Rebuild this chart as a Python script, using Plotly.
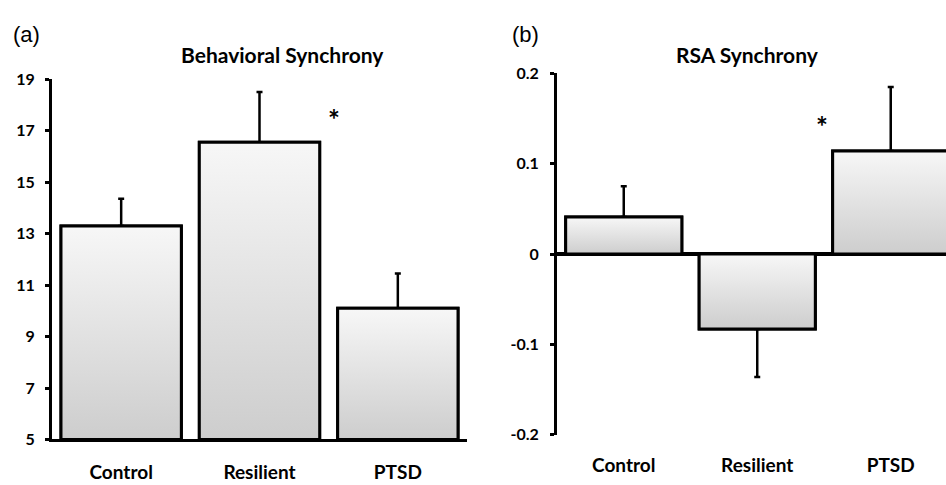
import plotly.graph_objects as go

# ---- data ----
groups = ["Control", "Resilient", "PTSD"]
behav_means = [13.3, 16.55, 10.1]
behav_err = [1.05, 1.95, 1.35]
rsa_means = [0.041, -0.083, 0.114]
rsa_err = [0.034, 0.053, 0.071]

behav_ticks = [5, 7, 9, 11, 13, 15, 17, 19]
behav_ticktext = ["5", "7", "9", "11", "13", "15", "17", "19"]
rsa_ticks = [-0.2, -0.1, 0, 0.1, 0.2]
rsa_ticktext = ["-0.2", "-0.1", "0", "0.1", "0.2"]

behav_range = [5, 19]
rsa_range = [-0.2, 0.2]

# ---- style ----
BAR_W = 0.87
FONT = "Lato"
GRAD = [[0, "#cdcdcd"], [1, "#f7f7f7"]]

fig = go.Figure()
xpos = list(range(len(groups)))


def add_panel(means, errs, base, xa, ya):
    plus = [e if m >= 0 else 0 for m, e in zip(means, errs)]
    minus = [e if m < 0 else 0 for m, e in zip(means, errs)]
    # bar trace carrying the data and the one-sided error bars
    fig.add_trace(go.Bar(
        x=xpos, y=[m - base for m in means], base=base, width=BAR_W,
        marker=dict(color="#e0e0e0", line=dict(color="black", width=3)),
        error_y=dict(type="data", symmetric=False, array=plus, arrayminus=minus,
                     color="black", thickness=2.5, width=3),
        xaxis=xa, yaxis=ya, showlegend=False, hoverinfo="skip"))
    # gradient face of each bar, built from the same values
    for xi, m in zip(xpos, means):
        x0, x1 = xi - BAR_W / 2, xi + BAR_W / 2
        fig.add_trace(go.Scatter(
            x=[x0, x0, x1, x1, x0], y=[base, m, m, base, base],
            mode="lines", fill="toself",
            fillgradient=dict(type="vertical", colorscale=GRAD),
            line=dict(color="black", width=3),
            xaxis=xa, yaxis=ya, showlegend=False, hoverinfo="skip"))


add_panel(behav_means, behav_err, behav_range[0], "x", "y")
add_panel(rsa_means, rsa_err, 0, "x2", "y2")

tickfont_y = dict(family=FONT, size=16, color="black", weight="bold")
tickfont_x = dict(family=FONT, size=19, color="black", weight="bold")

fig.update_layout(
    width=946, height=485,
    margin=dict(l=0, r=0, t=0, b=0),
    paper_bgcolor="white", plot_bgcolor="white",
    barmode="overlay",
    xaxis=dict(domain=[52 / 946, 467 / 946], range=[-0.5, 2.5],
               tickvals=xpos, ticktext=groups, tickfont=tickfont_x,
               showline=True, linecolor="black", linewidth=3,
               ticks="outside", ticklen=14, tickcolor="rgba(0,0,0,0)",
               showgrid=False, zeroline=False, anchor="y", fixedrange=True),
    yaxis=dict(domain=[1 - 447 / 485, 1 - 72 / 485], range=behav_range,
               tickvals=behav_ticks, ticktext=behav_ticktext, tickfont=tickfont_y,
               showline=True, linecolor="black", linewidth=3,
               ticks="outside", ticklen=4, tickwidth=3, tickcolor="black",
               ticklabelstandoff=7,
               showgrid=False, zeroline=False, anchor="x", fixedrange=True),
    xaxis2=dict(domain=[557 / 946, 1.0], range=[-0.5, 2.414],
                tickvals=xpos, ticktext=groups, tickfont=tickfont_x,
                showline=False,
                ticks="outside", ticklen=14, tickcolor="rgba(0,0,0,0)",
                showgrid=False, zeroline=False, anchor="y2", fixedrange=True),
    yaxis2=dict(domain=[1 - 442 / 485, 1 - 66 / 485], range=rsa_range,
                tickvals=rsa_ticks, ticktext=rsa_ticktext, tickfont=tickfont_y,
                showline=True, linecolor="black", linewidth=3,
                ticks="outside", ticklen=4, tickwidth=3, tickcolor="black",
                ticklabelstandoff=8,
                showgrid=False, zeroline=True, zerolinecolor="black", zerolinewidth=3.5,
                anchor="x2", fixedrange=True),
)

annots = [
    dict(text="(a)", x=11 / 946, y=1 - 25 / 485, xref="paper", yref="paper",
         xanchor="left", yanchor="middle", showarrow=False,
         font=dict(family="Liberation Sans", size=22, color="black")),
    dict(text="(b)", x=510 / 946, y=1 - 25 / 485, xref="paper", yref="paper",
         xanchor="left", yanchor="middle", showarrow=False,
         font=dict(family="Liberation Sans", size=22, color="black")),
    dict(text="Behavioral Synchrony", x=282 / 946, y=1 - 46 / 485, xref="paper", yref="paper",
         xanchor="center", yanchor="middle", showarrow=False,
         font=dict(family=FONT, size=21, color="black", weight="bold")),
    dict(text="RSA Synchrony", x=747 / 946, y=1 - 46 / 485, xref="paper", yref="paper",
         xanchor="center", yanchor="middle", showarrow=False,
         font=dict(family=FONT, size=21, color="black", weight="bold")),
    dict(text="*", x=1.54, y=17.45, xref="x", yref="y", showarrow=False,
         font=dict(family=FONT, size=28, color="black", weight="bold")),
    dict(text="*", x=1.483, y=0.142, xref="x2", yref="y2", showarrow=False,
         font=dict(family=FONT, size=28, color="black", weight="bold")),
]
fig.update_layout(annotations=annots)

fig.write_html("out.html")
